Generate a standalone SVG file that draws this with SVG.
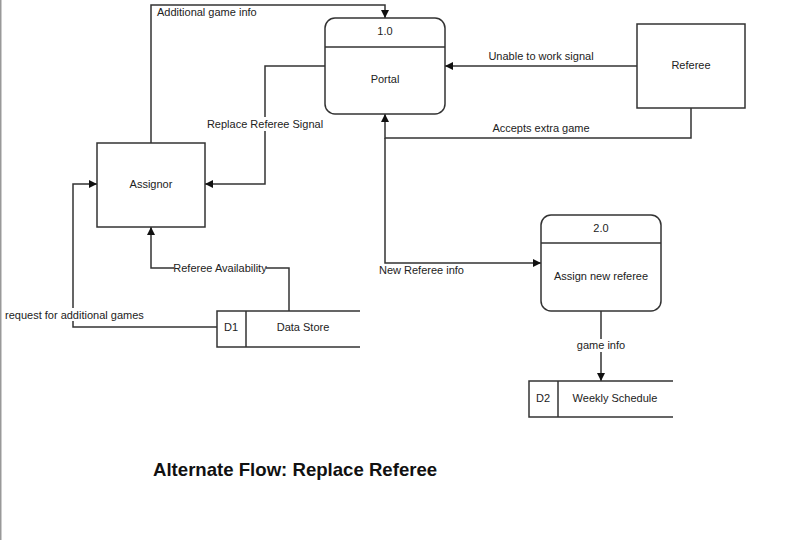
<svg xmlns="http://www.w3.org/2000/svg" width="793" height="540" viewBox="0 0 793 540">
<defs>
<style>
.n{fill:#fff;stroke:#333;stroke-width:1.5}
.c{fill:none;stroke:#333;stroke-width:1.5}
.t{font-family:"Liberation Sans",Arial,sans-serif;font-size:11px;fill:#222}
.m{text-anchor:middle}
.bg{fill:#fff}
</style>
<marker id="a" viewBox="0 0 10 10" refX="10" refY="5" markerWidth="8" markerHeight="8" markerUnits="userSpaceOnUse" orient="auto">
<path d="M0,0 L10,5 L0,10 z" fill="#111"/>
</marker>
</defs>
<rect x="0" y="0" width="793" height="540" fill="#fff"/>
<rect x="0" y="0" width="1.5" height="540" fill="#999"/>

<g id="connectors">
<path class="c" d="M151,143 V5 H385 V18" marker-end="url(#a)"/>
<path class="c" d="M325,66 H265 V184 H205" marker-end="url(#a)"/>
<path class="c" d="M637,66 H445" marker-end="url(#a)"/>
<path class="c" d="M691,108 V138 H385 V114" marker-end="url(#a)"/>
<path class="c" d="M385,138 V263 H541" marker-end="url(#a)"/>
<path class="c" d="M289,311 V268 H151 V227" marker-end="url(#a)"/>
<path class="c" d="M217,327 H73 V184 H97" marker-end="url(#a)"/>
<path class="c" d="M601,311 V381" marker-end="url(#a)"/>
<text class="t" x="157" y="16">Additional game info</text>
<rect class="bg" x="206" y="117" width="118" height="14"/>
<text class="t m" x="265" y="128">Replace Referee Signal</text>
<text class="t m" x="541" y="60">Unable to work signal</text>
<text class="t m" x="541" y="132">Accepts extra game</text>
<text class="t" x="379" y="274">New Referee info</text>
<rect class="bg" x="174" y="261" width="92" height="14"/>
<text class="t m" x="220" y="272">Referee Availability</text>
<rect class="bg" x="4" y="308" width="138" height="13"/>
<text class="t" x="5" y="319">request for additional games</text>
<rect class="bg" x="576" y="339" width="50" height="13"/>
<text class="t m" x="601" y="349">game info</text>
</g>

<g id="portal">
<rect class="n" x="325" y="18" width="120" height="96" rx="10"/>
<line class="c" x1="325" y1="47" x2="445" y2="47"/>
<text class="t m" x="385" y="35">1.0</text>
<text class="t m" x="385" y="83">Portal</text>
</g>

<g id="referee">
<rect class="n" x="637" y="24" width="108" height="84"/>
<text class="t m" x="691" y="69">Referee</text>
</g>

<g id="assignor">
<rect class="n" x="97" y="143" width="108" height="84"/>
<text class="t m" x="151" y="188">Assignor</text>
</g>

<g id="assign">
<rect class="n" x="541" y="215" width="120" height="96" rx="10"/>
<line class="c" x1="541" y1="243" x2="661" y2="243"/>
<text class="t m" x="601" y="232">2.0</text>
<text class="t m" x="601" y="280">Assign new referee</text>
</g>

<g id="d1">
<path class="c" d="M360,311 H217 V347 H360 M246,311 V347"/>
<text class="t m" x="231" y="331">D1</text>
<text class="t m" x="303" y="331">Data Store</text>
</g>

<g id="d2">
<path class="c" d="M673,381 H529 V417 H673 M558,381 V417"/>
<text class="t m" x="543" y="402">D2</text>
<text class="t m" x="615" y="402">Weekly Schedule</text>
</g>

<text x="153" y="476" font-family="'Liberation Sans',Arial,sans-serif" font-size="18.6" font-weight="bold" fill="#111">Alternate Flow: Replace Referee</text>
</svg>
